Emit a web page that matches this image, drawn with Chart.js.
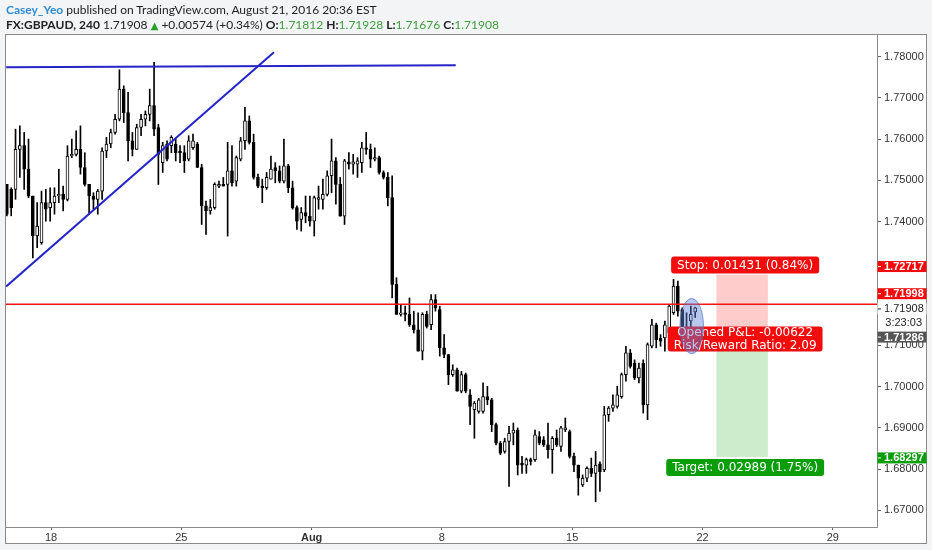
<!DOCTYPE html>
<html>
<head>
<meta charset="utf-8">
<script src="https://cdn.jsdelivr.net/npm/chart.js"></script>
<style>
  html, body { margin: 0; padding: 0; background: #f3f4f5; }
  #wrap { position: relative; width: 932px; height: 550px; overflow: hidden; }
  #c { position: absolute; left: 0; top: 0; }
  .hdr { position: absolute; left: 6px; font-family: Lato, "DejaVu Sans", sans-serif; font-size: 12px; color: #222; white-space: nowrap; }
  #h1 { top: 2px; }
  #h2 { top: 17px; }
  .user { color: #2e8bd6; font-weight: bold; }
  .g { color: #3c9e3c; }
  .tri { color: #2aa02a; font-family: "DejaVu Sans", sans-serif; font-size: 10px; }
</style>
</head>
<body>
<div id="wrap">
  <canvas id="c" width="932" height="550"></canvas>
  <div class="hdr" id="h1"><span class="user">Casey_Yeo</span> published on TradingView.com, August 21, 2016 20:36 EST</div>
  <div class="hdr" id="h2"><b>FX:GBPAUD, 240</b> 1.71908 <span class="tri">▲</span> +0.00574 (+0.34%) <b>O:</b><span class="g">1.71812</span> <b>H:</b><span class="g">1.71928</span> <b>L:</b><span class="g">1.71676</span> <b>C:</b><span class="g">1.71908</span></div>
</div>
<script>
// 4h candles, GBPAUD
const opens = [
  1.7490,1.7478,1.7478,1.7575,1.7584,1.7527,1.7462,1.7365,1.7349,1.7446,
  1.7434,1.7446,1.7462,1.7466,1.7454,1.7559,1.7563,1.7575,1.7531,1.7490,
  1.7462,1.7454,1.7474,1.7571,1.7588,1.7616,1.7648,1.7721,1.7664,1.7596,
  1.7575,1.7628,1.7648,1.7660,1.7681,1.7628,1.7543,1.7588,1.7584,1.7588,
  1.7571,1.7567,1.7551,1.7579,1.7588,1.7531,1.7438,1.7426,1.7434,1.7486,
  1.7490,1.7490,1.7523,1.7498,1.7551,1.7596,1.7644,1.7592,1.7507,1.7486,
  1.7482,1.7503,1.7531,1.7523,1.7498,1.7535,1.7482,1.7434,1.7405,1.7422,
  1.7413,1.7401,1.7454,1.7454,1.7466,1.7511,1.7547,1.7490,1.7413,1.7545,
  1.7539,1.7539,1.7543,1.7579,1.7575,1.7551,1.7555,1.7519,1.7507,1.7458,
  1.7248,1.7175,1.7179,1.7175,1.7150,1.7138,1.7086,1.7175,1.7150,1.7211,
  1.7187,1.7094,1.7078,1.7029,1.7041,1.6989,1.7029,1.6980,1.6944,1.6940,
  1.6940,1.6976,1.6968,1.6908,1.6863,1.6843,1.6867,1.6887,1.6895,1.6815,
  1.6810,1.6823,1.6823,1.6879,1.6871,1.6859,1.6847,1.6875,1.6855,1.6895,
  1.6891,1.6831,1.6810,1.6762,1.6778,1.6802,1.6790,1.6813,1.6798,1.6932,
  1.6948,1.6952,1.6976,1.7029,1.7082,1.7057,1.7021,1.7057,1.6956,1.7098,
  1.7150,1.7118,1.7118,1.7130,1.7179,1.7244,1.7187,1.7142,1.7159,1.71812
];
const highs = [
  1.7490,1.7482,1.7624,1.7632,1.7616,1.7600,1.7462,1.7446,1.7474,1.7478,
  1.7482,1.7482,1.7527,1.7486,1.7584,1.7600,1.7620,1.7632,1.7567,1.7490,
  1.7470,1.7478,1.7579,1.7604,1.7624,1.7660,1.7768,1.7729,1.7713,1.7616,
  1.7636,1.7660,1.7668,1.7721,1.7786,1.7636,1.7592,1.7596,1.7608,1.7600,
  1.7584,1.7584,1.7608,1.7612,1.7592,1.7539,1.7450,1.7454,1.7494,1.7498,
  1.7507,1.7592,1.7584,1.7559,1.7604,1.7677,1.7656,1.7612,1.7515,1.7503,
  1.7519,1.7559,1.7543,1.7535,1.7600,1.7539,1.7498,1.7438,1.7434,1.7462,
  1.7462,1.7462,1.7486,1.7503,1.7523,1.7600,1.7555,1.7507,1.7551,1.7567,
  1.7563,1.7555,1.7592,1.7616,1.7588,1.7579,1.7559,1.7523,1.7519,1.7511,
  1.7264,1.7199,1.7195,1.7215,1.7183,1.7179,1.7179,1.7183,1.7223,1.7223,
  1.7195,1.7126,1.7078,1.7053,1.7045,1.7037,1.7033,1.6993,1.6964,1.6972,
  1.7009,1.7001,1.6972,1.6912,1.6867,1.6875,1.6904,1.6912,1.6900,1.6831,
  1.6827,1.6827,1.6895,1.6891,1.6879,1.6912,1.6879,1.6895,1.6904,1.6924,
  1.6895,1.6839,1.6810,1.6786,1.6806,1.6827,1.6843,1.6818,1.6952,1.6952,
  1.6980,1.7001,1.7033,1.7098,1.7090,1.7065,1.7057,1.7065,1.7106,1.7163,
  1.7154,1.7126,1.7159,1.7199,1.7260,1.7256,1.7191,1.7179,1.7195,1.71928
];
const lows = [
  1.7414,1.7414,1.7454,1.7507,1.7478,1.7458,1.7312,1.7337,1.7345,1.7401,
  1.7401,1.7418,1.7446,1.7426,1.7450,1.7555,1.7559,1.7515,1.7486,1.7418,
  1.7430,1.7418,1.7454,1.7555,1.7579,1.7612,1.7644,1.7640,1.7547,1.7559,
  1.7575,1.7608,1.7632,1.7644,1.7608,1.7490,1.7519,1.7547,1.7567,1.7547,
  1.7543,1.7519,1.7547,1.7575,1.7531,1.7393,1.7369,1.7418,1.7430,1.7482,
  1.7486,1.7365,1.7486,1.7486,1.7547,1.7575,1.7588,1.7503,1.7482,1.7446,
  1.7478,1.7503,1.7494,1.7494,1.7494,1.7470,1.7430,1.7381,1.7377,1.7397,
  1.7389,1.7365,1.7430,1.7430,1.7462,1.7470,1.7442,1.7413,1.7393,1.7527,
  1.7515,1.7507,1.7519,1.7563,1.7531,1.7547,1.7515,1.7503,1.7438,1.7215,
  1.7175,1.7171,1.7159,1.7146,1.7130,1.7086,1.7065,1.7142,1.7138,1.7183,
  1.7074,1.7070,1.7005,1.7025,1.6989,1.6985,1.6985,1.6908,1.6875,1.6936,
  1.6936,1.6956,1.6891,1.6859,1.6835,1.6839,1.6758,1.6859,1.6786,1.6790,
  1.6790,1.6810,1.6819,1.6859,1.6855,1.6827,1.6790,1.6855,1.6843,1.6891,
  1.6827,1.6794,1.6737,1.6758,1.6770,1.6782,1.6721,1.6746,1.6794,1.6916,
  1.6940,1.6948,1.6972,1.7013,1.7045,1.7017,1.7009,1.6936,1.6920,1.7094,
  1.7094,1.7098,1.7086,1.7126,1.7175,1.7171,1.7114,1.7114,1.7134,1.71676
];
const closes = [
  1.7418,1.7434,1.7575,1.7584,1.7527,1.7462,1.7365,1.7389,1.7446,1.7430,
  1.7446,1.7462,1.7466,1.7454,1.7559,1.7563,1.7575,1.7531,1.7490,1.7462,
  1.7454,1.7474,1.7571,1.7588,1.7616,1.7648,1.7721,1.7664,1.7596,1.7575,
  1.7628,1.7648,1.7660,1.7681,1.7624,1.7563,1.7584,1.7551,1.7604,1.7567,
  1.7567,1.7547,1.7596,1.7596,1.7531,1.7438,1.7426,1.7434,1.7490,1.7490,
  1.7486,1.7523,1.7494,1.7555,1.7596,1.7644,1.7592,1.7507,1.7486,1.7482,
  1.7507,1.7527,1.7523,1.7498,1.7535,1.7482,1.7434,1.7401,1.7422,1.7413,
  1.7401,1.7458,1.7458,1.7466,1.7511,1.7547,1.7490,1.7413,1.7547,1.7539,
  1.7545,1.7547,1.7579,1.7575,1.7551,1.7555,1.7519,1.7507,1.7458,1.7248,
  1.7175,1.7179,1.7175,1.7150,1.7138,1.7086,1.7175,1.7146,1.7211,1.7191,
  1.7094,1.7078,1.7029,1.7041,1.6989,1.7029,1.6989,1.6952,1.6960,1.6968,
  1.6976,1.6968,1.6908,1.6863,1.6839,1.6867,1.6887,1.6895,1.6810,1.6810,
  1.6823,1.6819,1.6883,1.6863,1.6859,1.6847,1.6875,1.6859,1.6900,1.6900,
  1.6831,1.6810,1.6778,1.6778,1.6802,1.6790,1.6810,1.6794,1.6932,1.6948,
  1.6956,1.6980,1.7029,1.7082,1.7049,1.7021,1.7045,1.6956,1.7102,1.7150,
  1.7114,1.7110,1.7150,1.7195,1.7244,1.7183,1.7130,1.7118,1.7175,1.71908
];

// axes
const xTickIndex = [10.2, 40.3, 70.4, 100.5, 130.6, 160.7, 190.8];
const xTickLabels = ['18', '25', 'Aug', '8', '15', '22', '29'];
const yTickValues = [1.67, 1.68, 1.69, 1.70, 1.71, 1.74, 1.75, 1.76, 1.77, 1.78];

// drawings
const trendUp = [[-0.16, 1.72427], [61.7, 1.78102]];
const trendFlat = [[-0.16, 1.7774], [103.7, 1.7779]];
const stopLevel = 1.71998;
const lastPrice = 1.71908;
const entryPrice = 1.71286;
const stopPrice = 1.72717;
const targetPrice = 1.68297;
const toolRange = [163.9, 175.8];
const markerCenter = [158.2, 1.71468];

const idx = opens.map((_, i) => i);
const AXIS_FONT = '"Liberation Sans", Arial, sans-serif';
const TOOL_FONT = '"DejaVu Sans", Verdana, sans-serif';

const overlay = {
  id: 'overlay',
  beforeDraw(chart) {
    const ctx = chart.ctx;
    ctx.save();
    ctx.fillStyle = '#fff';
    ctx.fillRect(5, 34, 922, 510);
    ctx.restore();
  },
  beforeDatasetsDraw(chart) {
    const { ctx, scales: { x, y } } = chart;
    const x0 = x.getPixelForValue(toolRange[0]);
    const x1 = x.getPixelForValue(toolRange[1]);
    const ys = y.getPixelForValue(stopPrice);
    const ye = y.getPixelForValue(entryPrice);
    const yt = y.getPixelForValue(targetPrice);
    ctx.save();
    ctx.fillStyle = 'rgba(255,0,0,0.2)';
    ctx.fillRect(x0, ys, x1 - x0, ye - ys);
    ctx.fillStyle = 'rgba(0,160,0,0.2)';
    ctx.fillRect(x0, ye, x1 - x0, yt - ye);
    ctx.restore();
  },
  afterDraw(chart) {
    const { ctx, scales: { x, y }, chartArea } = chart;
    ctx.save();

    // outer frame
    ctx.strokeStyle = '#8a8a8a';
    ctx.lineWidth = 1;
    ctx.strokeRect(5.5, 34.5, 921, 509);

    // position tool labels
    const cx = (x.getPixelForValue(toolRange[0]) + x.getPixelForValue(toolRange[1])) / 2 + 3;
    const ys = y.getPixelForValue(stopPrice);
    const ye = y.getPixelForValue(entryPrice);
    const yt = y.getPixelForValue(targetPrice);
    ctx.font = '12px ' + TOOL_FONT;
    ctx.textAlign = 'center';
    ctx.textBaseline = 'middle';
    const toolBox = (lines, top, h, color) => {
      const w = Math.max(...lines.map(t => ctx.measureText(t).width)) + 12;
      ctx.fillStyle = color;
      ctx.beginPath();
      ctx.roundRect(cx - w / 2, top, w, h, 3);
      ctx.fill();
      ctx.fillStyle = '#fff';
      lines.forEach((t, i) => ctx.fillText(t, cx, top + h / (lines.length * 2) * (2 * i + 1) + 0.5));
    };
    toolBox(['Stop: 0.01431 (0.84%)'], ys - 18, 17, '#f20d0d');
    toolBox(['Opened P&L: -0.00622', 'Risk/Reward Ratio: 2.09'], ye - 7, 25, '#f20d0d');
    toolBox(['Target: 0.02989 (1.75%)'], yt + 2, 17, '#0a9e0a');

    // marker ellipse
    ctx.beginPath();
    ctx.ellipse(x.getPixelForValue(markerCenter[0]), y.getPixelForValue(markerCenter[1]), 11.7, 27.5, 0, 0, Math.PI * 2);
    ctx.fillStyle = 'rgba(95,130,215,0.45)';
    ctx.fill();
    ctx.strokeStyle = 'rgba(80,110,200,0.7)';
    ctx.stroke();

    // price scale labels
    const ax = chartArea.right;
    const aw = 49;
    ctx.textAlign = 'left';
    const priceTag = (price, dy, bg, fg, bold) => {
      const py = y.getPixelForValue(price) + dy;
      ctx.fillStyle = bg;
      ctx.fillRect(ax + 0.5, py - 5.5, aw, 11);
      ctx.fillStyle = fg;
      ctx.fillRect(ax + 1, py - 0.5, 3, 1);
      ctx.font = (bold ? 'bold ' : '') + '11px ' + AXIS_FONT;
      ctx.fillText(price.toFixed(5), ax + 7, py + 0.5);
    };
    priceTag(stopPrice, -8, '#f50a0a', '#fff', true);
    priceTag(stopLevel, -10.5, '#f50a0a', '#fff', true);
    priceTag(lastPrice, 1, '#fff', '#222', false);
    priceTag(entryPrice, 3.5, '#555', '#fff', true);
    priceTag(targetPrice, 1, '#0a9e0a', '#fff', true);
    ctx.fillStyle = '#222';
    ctx.font = '11px ' + AXIS_FONT;
    ctx.textAlign = 'right';
    ctx.fillText('3:23:03', ax + 45, y.getPixelForValue(lastPrice) + 15);

    ctx.restore();
  }
};

const line = (pts, color, width) => ({
  type: 'line',
  order: 0,
  data: pts.map(p => ({ x: p[0], y: p[1] })),
  borderColor: color,
  borderWidth: width,
  pointRadius: 0,
  fill: false
});

new Chart(document.getElementById('c'), {
  type: 'bar',
  data: {
    datasets: [
      line(trendUp, '#2424c8', 2),
      line(trendFlat, '#2424c8', 2),
      line([[-0.2, stopLevel], [201, stopLevel]], '#f01414', 1.5),
      {
        label: 'bodies',
        order: 1,
        grouped: false,
        barThickness: 3,
        minBarLength: 1,
        borderWidth: 1,
        borderSkipped: false,
        borderColor: '#000',
        backgroundColor: idx.map(i => closes[i] >= opens[i] ? '#fff' : '#000'),
        data: idx.map(i => ({ x: i, y: [Math.min(opens[i], closes[i]), Math.max(opens[i], closes[i])] }))
      },
      {
        label: 'wicks',
        order: 2,
        grouped: false,
        barThickness: 1,
        borderWidth: 0,
        backgroundColor: '#000',
        data: idx.map(i => ({ x: i, y: [lows[i], highs[i]] }))
      }
    ]
  },
  options: {
    responsive: false,
    animation: false,
    layout: { padding: { left: 6, right: 5, top: 34, bottom: 6 } },
    plugins: { legend: { display: false }, tooltip: { enabled: false } },
    scales: {
      x: {
        type: 'linear',
        min: -0.2,
        max: 201,
        offset: false,
        afterBuildTicks: s => { s.ticks = xTickIndex.map(v => ({ value: v })); },
        afterFit: s => { s.height = 17; },
        ticks: {
          autoSkip: false,
          maxRotation: 0,
          padding: 1,
          color: '#333',
          font: ctx => ({ family: AXIS_FONT, size: 11, weight: ctx.tick && ctx.tick.value === xTickIndex[2] ? 'bold' : 'normal' }),
          callback: v => xTickLabels[xTickIndex.indexOf(v)]
        },
        grid: { offset: false, drawOnChartArea: false, drawTicks: true, tickLength: 3, color: '#666' },
        border: { display: true, color: '#8a8a8a' }
      },
      y: {
        position: 'right',
        min: 1.66599,
        max: 1.78546,
        afterBuildTicks: s => { s.ticks = yTickValues.map(v => ({ value: v })); },
        afterFit: s => { s.width = 50; },
        ticks: {
          padding: 3,
          color: '#333',
          font: { family: AXIS_FONT, size: 11 },
          callback: v => Number(v).toFixed(5)
        },
        grid: { drawOnChartArea: false, drawTicks: true, tickLength: 4, color: '#666' },
        border: { display: true, color: '#8a8a8a' }
      }
    }
  },
  plugins: [overlay]
});
</script>
</body>
</html>
